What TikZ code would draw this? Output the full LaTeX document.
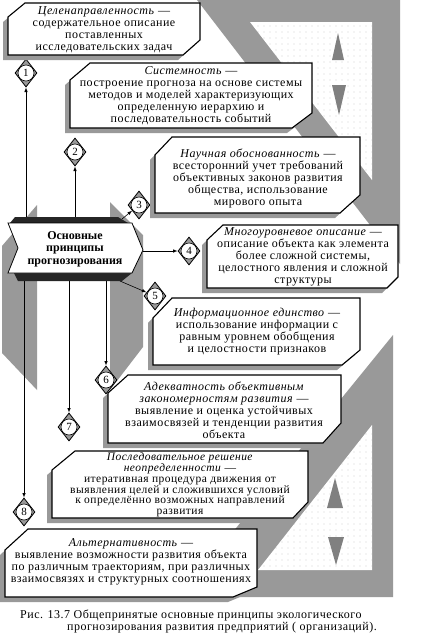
\documentclass[tikz,border=0pt]{standalone}
\usepackage{fontspec}
\setmainfont{Liberation Serif}
\newfontfamily\bodyfont{Liberation Serif}[LetterSpace=4]
\usetikzlibrary{shapes.geometric,patterns.meta}

\tikzset{
  pbox/.style={draw=black,line width=1.1pt,fill=white},
  pshadow/.style={fill=black!40,shift={(-5,5)}},
  ptext/.style={align=center,font=\bodyfont\fontsize{12}{12}\selectfont,inner sep=0pt},
  rombus/.style={diamond,draw=black,fill=black!40,line width=0.8pt,minimum width=22pt,minimum height=28pt,inner sep=0pt},
  num/.style={circle,draw=black,fill=white,line width=0.6pt,minimum size=16pt,inner sep=0pt,font=\fontsize{11}{12}\selectfont},
  conn/.style={-latex,line width=0.6pt},
  wing/.style={fill=black!40},
  panel/.style={fill=white,pattern={Dots[distance=6pt,radius=0.4pt]},pattern color=black!50},
  tri/.style={fill=black!50}
}

\begin{document}
\begin{tikzpicture}[x=1pt,y=-1pt]
	\useasboundingbox (0,0) rectangle (422,638);
	
	% decoration on the right
	\fill[wing] (197,0) -- (400,0) -- (400,264) -- cycle;
	\fill[white] (250,22) -- (372,22) -- (372,180) -- cycle;
	\fill[panel] (250,22) -- (372,22) -- (372,180) -- cycle;
	\fill[tri] (338,33) -- (344,60) -- (332,60) -- cycle;
	\fill[tri] (332,85) -- (346,85) -- (339,115) -- cycle;
	\fill[wing] (393,335) -- (393,597) -- (180,597) -- cycle;
	\fill[white] (372,425) -- (372,570) -- (258,570) -- cycle;
	\fill[panel] (372,425) -- (372,570) -- (258,570) -- cycle;
	\fill[tri] (335,478) -- (343,508) -- (327,508) -- cycle;
	\fill[tri] (328,537) -- (344,537) -- (336,565) -- cycle;
	
	% gray wings behind the banner
	\fill[wing] (2,246) -- (37,205) -- (37,390) -- (2,353) -- cycle;
	\fill[wing] (110,202) -- (143,235) -- (143,347) -- (110,390) -- cycle;
	
	% diamonds
	\node[rombus] (d1) at (26,73) {};
	\node[rombus] (d2) at (75,152) {};
	\node[rombus] (d3) at (139,205) {};
	\node[rombus] (d4) at (189,251) {};
	\node[rombus] (d5) at (155,296) {};
	\node[rombus] (d6) at (106,380) {};
	\node[rombus] (d7) at (69,427) {};
	\node[rombus] (d8) at (24,512) {};
	
	% banner
	\coordinate (up1) at (26,218);
	\coordinate (up2) at (75,218);
	\coordinate (up3) at (122,219);
	\coordinate (side4) at (143,251);
	\coordinate (down5) at (120,281);
	\coordinate (down6) at (106,281);
	\coordinate (down7) at (69,281);
	\coordinate (down8) at (24,281);
	\draw[conn] (up1) -- (d1);
	\draw[conn] (up2) -- (d2);
	\draw[conn] (up3) -- (d3);
	\draw[conn] (side4) -- (d4);
	\draw[conn] (down5) -- (d5);
	\draw[conn] (down6) -- (d6);
	\draw[conn] (down7) -- (d7);
	\draw[conn] (down8) -- (d8);
	
	\fill[black!85] (15,217) -- (118,217) -- (128,223) -- (10,223) -- cycle;
	\fill[black!85] (14,273) -- (132,273) -- (122,281) -- (18,281) -- cycle;
	\draw[fill=white,line width=0.8pt] (8,223) -- (132,223) -- (143,250) -- (132,273) -- (8,273) -- (18,248) -- cycle;
	\node[align=center,inner sep=0pt,font=\fontsize{12}{12.5}\selectfont\bfseries] (ban) at (75,249) {Основные\\принципы\\прогнозирования};
	
	% boxes
	\fill[pshadow] (8,17) -- (25,3) -- (200,3) -- (200,40) -- (183,55) -- (8,55) -- cycle;
	\draw[pbox] (8,17) -- (25,3) -- (200,3) -- (200,40) -- (183,55) -- (8,55) -- cycle;
	\node[ptext] (t1) at (104,30) {\textit{Целенаправленность} —\\содержательное описание\\поставленных\\исследовательских задач};
	
	\fill[pshadow] (70,80) -- (90,63) -- (312,63) -- (312,113) -- (292,128) -- (70,128) -- cycle;
	\draw[pbox] (70,80) -- (90,63) -- (312,63) -- (312,113) -- (292,128) -- (70,128) -- cycle;
	\node[ptext] (t2) at (191,96) {\textit{Системность} —\\построение прогноза на основе системы\\методов и моделей характеризующих\\определенную иерархию и\\последовательность событий};
	
	\fill[pshadow] (155,155) -- (172,137) -- (360,137) -- (360,195) -- (340,213) -- (155,213) -- cycle;
	\draw[pbox] (155,155) -- (172,137) -- (360,137) -- (360,195) -- (340,213) -- (155,213) -- cycle;
	\node[ptext] (t3) at (258,178) {\textit{Научная обоснованность} —\\всесторонний учет требований\\объективных законов развития\\общества, использование\\мирового опыта};
	
	\fill[pshadow] (207,240) -- (223,225) -- (398,225) -- (398,277) -- (387,288) -- (207,288) -- cycle;
	\draw[pbox] (207,240) -- (223,225) -- (398,225) -- (398,277) -- (387,288) -- (207,288) -- cycle;
	\node[ptext] (t4) at (303,257) {\textit{Многоуровневое описание} —\\описание объекта как элемента\\более сложной системы,\\целостного явления и сложной\\структуры};
	
	\fill[pshadow] (153,318) -- (172,298) -- (360,298) -- (360,350) -- (342,365) -- (153,365) -- cycle;
	\draw[pbox] (153,318) -- (172,298) -- (360,298) -- (360,350) -- (342,365) -- (153,365) -- cycle;
	\node[ptext] (t5) at (257,332) {\textit{Информационное единство} —\\использование информации с\\равным уровнем обобщения\\и целостности признаков};
	
	\fill[pshadow] (108,393) -- (128,375) -- (341,375) -- (341,423) -- (323,443) -- (108,443) -- cycle;
	\draw[pbox] (108,393) -- (128,375) -- (341,375) -- (341,423) -- (323,443) -- (108,443) -- cycle;
	\node[ptext] (t6) at (224,410) {\textit{Адекватность объективным}\\\textit{закономерностям развития} —\\выявление и оценка устойчивых\\взаимосвязей и тенденции развития\\объекта};
	
	\fill[pshadow] (52,470) -- (75,451) -- (308,451) -- (308,502) -- (293,518) -- (52,518) -- cycle;
	\draw[pbox] (52,470) -- (75,451) -- (308,451) -- (308,502) -- (293,518) -- (52,518) -- cycle;
	\node[ptext,font=\bodyfont\fontsize{11.5}{10.8}\selectfont] (t7) at (180,485) {\textit{Последовательное решение}\\\textit{неопределенности} —\\итеративная процедура движения от\\выявления целей и сложившихся условий\\к определённо возможных  направлений\\развития};
	
	\fill[pshadow] (5,550) -- (28,529) -- (257,529) -- (257,587) -- (233,597) -- (5,597) -- cycle;
	\draw[pbox] (5,550) -- (28,529) -- (257,529) -- (257,587) -- (233,597) -- (5,597) -- cycle;
	\node[ptext] (t8) at (131,562) {\textit{Альтернативность} —\\выявление возможности развития объекта\\по различным траекториям, при различных\\взаимосвязях и структурных соотношениях};
	
	% numbers
	\node[num] (n1) at (d1) {1};
	\node[num] (n2) at (d2) {2};
	\node[num] (n3) at (d3) {3};
	\node[num] (n4) at (d4) {4};
	\node[num] (n5) at (d5) {5};
	\node[num] (n6) at (d6) {6};
	\node[num] (n7) at (d7) {7};
	\node[num] (n8) at (d8) {8};
	
	% caption
	\node[anchor=west,inner sep=0pt,font=\bodyfont\fontsize{12}{12}\selectfont] (cap1) at (20,615) {Рис. 13.7 Общепринятые основные принципы экологического};
	\node[anchor=west,inner sep=0pt,font=\bodyfont\fontsize{12}{12}\selectfont] (cap2) at (67,628) {прогнозирования развития предприятий ( организаций).};
\end{tikzpicture}
\end{document}
